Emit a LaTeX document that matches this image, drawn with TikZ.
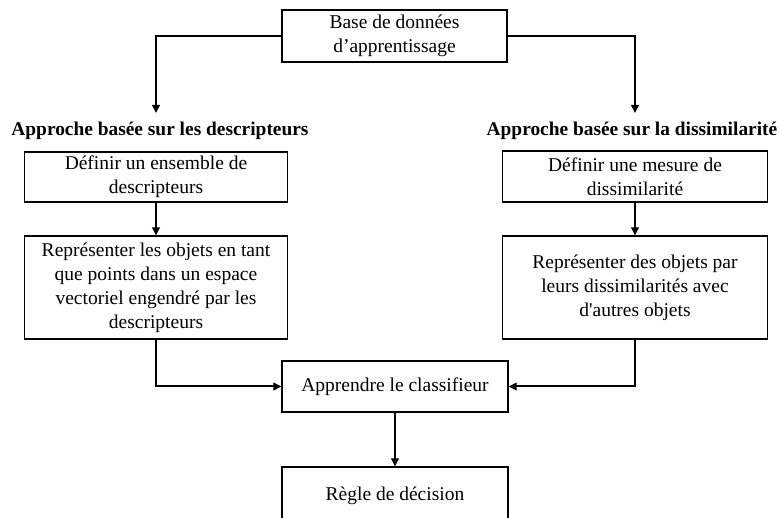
\documentclass[tikz,border=0pt]{standalone}
\usepackage{fontspec}
\setmainfont{Liberation Serif}
\usetikzlibrary{arrows.meta}
\begin{document}
\begin{tikzpicture}[x=1pt,y=-1pt,
  box/.style={draw=black,line width=1.1pt,align=center,inner sep=0pt,font=\fontsize{19.5}{24}\selectfont},
  head/.style={align=center,inner sep=0pt,font=\fontsize{19.4}{24}\selectfont\bfseries},
  conn/.style={line width=2pt,-{Triangle[length=8pt,width=7.5pt]}}]
\clip (0,0) rectangle (780,518);
\useasboundingbox (0,0) rectangle (780,518);
\node[box,minimum width=225pt,minimum height=52pt] (base) at (394.5,36) {Base de données\\d’apprentissage};
\node[head] (hl) at (160,131) {Approche basée sur les descripteurs};
\node[head] (hr) at (632,131) {Approche basée sur la dissimilarité};
\node[box,minimum width=263pt,minimum height=50pt] (l1) at (156,177) {Définir un ensemble de\\descripteurs};
\node[box,minimum width=263pt,minimum height=103pt] (l2) at (156,287.5) {Représenter les objets en tant\\que points dans un espace\\vectoriel engendré par les\\descripteurs};
\node[box,minimum width=265pt,minimum height=51pt] (r1) at (635,176.5) {Définir une mesure de\\dissimilarité};
\node[box,minimum width=265pt,minimum height=103pt] (r2) at (635,287.5) {Représenter des objets par\\leurs dissimilarités avec\\d\textquotesingle autres objets};
\node[box,minimum width=226pt,minimum height=51pt] (cl) at (395,386.5) {Apprendre le classifieur};
\node[box,minimum width=226pt,minimum height=58pt] (dec) at (395,496) {Règle de décision};
\coordinate (al) at (156,113);
\coordinate (ar) at (635,113);
\draw[conn] (base.west) -| (al);
\draw[conn] (base.east) -| (ar);
\draw[conn] (l1.south) -- (l2.north);
\draw[conn] (r1.south) -- (r2.north);
\draw[conn] (l2.south) |- (cl.west);
\draw[conn] (r2.south) |- (cl.east);
\draw[conn] (cl.south) -- (dec.north);
\end{tikzpicture}
\end{document}
